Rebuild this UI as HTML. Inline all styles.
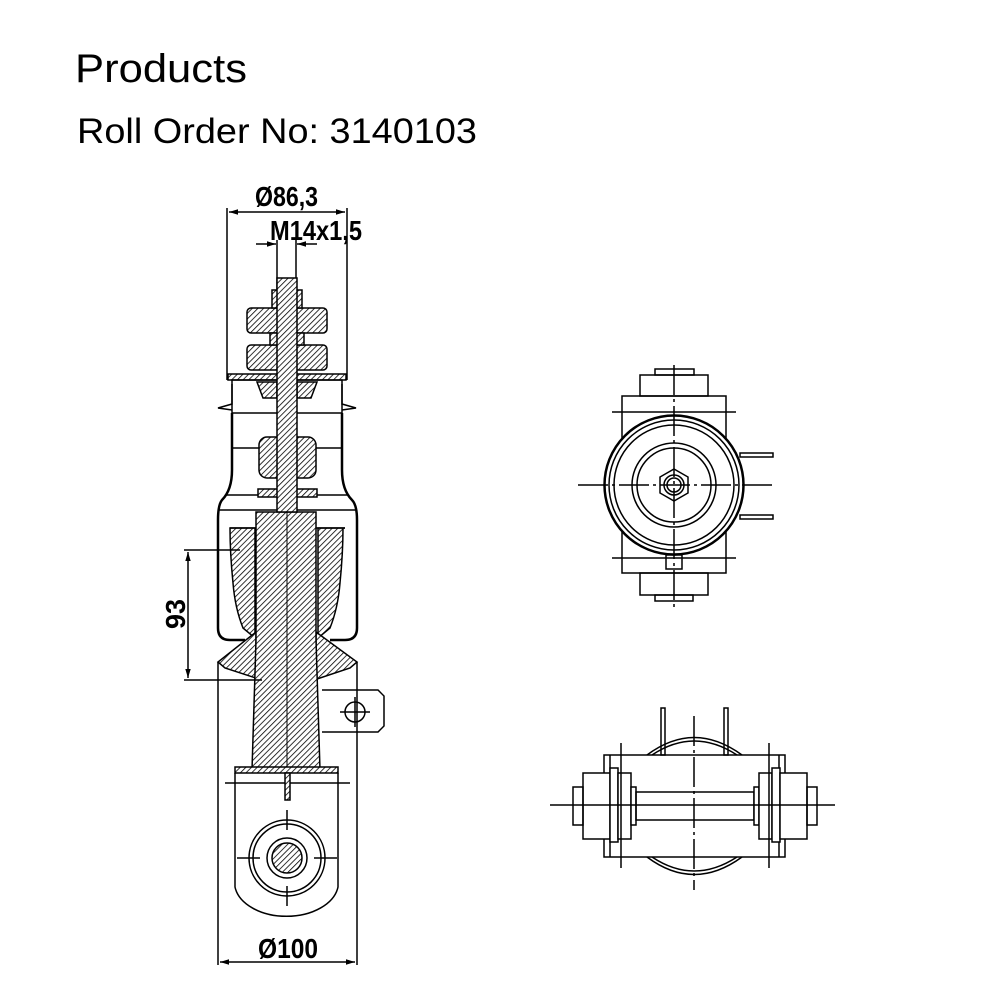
<!DOCTYPE html>
<html><head><meta charset="utf-8"><style>
html,body{margin:0;padding:0;background:#fff;width:1000px;height:1000px;overflow:hidden}
svg{display:block}
</style></head><body>
<svg width="1000" height="1000" viewBox="0 0 1000 1000" xmlns="http://www.w3.org/2000/svg">
<defs>
<pattern id="h" width="4" height="4" patternUnits="userSpaceOnUse" patternTransform="rotate(45)">
<rect width="4" height="4" fill="#fff"/><line x1="0" y1="0" x2="0" y2="4" stroke="#000" stroke-width="1.6"/></pattern>
<marker id="a" viewBox="0 0 10 10" refX="10" refY="5" markerWidth="8" markerHeight="6" orient="auto-start-reverse"><path d="M0,2 L10,5 L0,8 z" fill="#000"/></marker>
</defs>
<text x="75" y="82" font-family="Liberation Sans, sans-serif" font-size="40" textLength="172" lengthAdjust="spacingAndGlyphs">Products</text>
<text x="77" y="143" font-family="Liberation Sans, sans-serif" font-size="35" textLength="400" lengthAdjust="spacingAndGlyphs">Roll Order No: 3140103</text>

<g stroke="#000" stroke-width="1.5" fill="none">
<line x1="227" y1="208" x2="227" y2="380"/><line x1="347" y1="208" x2="347" y2="380"/>
<line x1="229" y1="212" x2="345" y2="212" marker-start="url(#a)" marker-end="url(#a)"/>
<line x1="277" y1="240" x2="277" y2="290"/><line x1="296" y1="240" x2="296" y2="290"/>
<line x1="256" y1="244" x2="276" y2="244" marker-end="url(#a)"/><line x1="317" y1="244" x2="297" y2="244" marker-end="url(#a)"/>

<rect x="247" y="308" width="80" height="25" rx="4" fill="url(#h)"/>
<rect x="247" y="345" width="80" height="25" rx="4" fill="url(#h)"/>
<rect x="270" y="333" width="34" height="12" fill="url(#h)"/>
<rect x="272" y="290" width="30" height="18" fill="url(#h)"/>
<rect x="228" y="374" width="118" height="6" fill="url(#h)"/>
<rect x="232" y="380" width="110" height="33"/>
<path d="M257 382 h20 v16 h-14 z M317 382 h-20 v16 h14 z" fill="url(#h)"/>
<path d="M232 384 v20 l-14 4 l14 2" /><path d="M342 384 v20 l14 4 l-14 2"/>
<path d="M232 413 V470 Q232 490 222 500 Q218 505 218 520 V628 Q218 640 230 640 H245" stroke-width="2.5"/>
<path d="M342 413 V470 Q342 490 352 500 Q357 505 357 520 V628 Q357 640 345 640 H330" stroke-width="2.5"/>
<line x1="232" y1="448" x2="342" y2="448"/><line x1="226" y1="495" x2="348" y2="495"/><line x1="218" y1="510" x2="357" y2="510"/>
<rect x="259" y="437" width="57" height="41" rx="8" fill="url(#h)"/>
<rect x="258" y="489" width="59" height="8" fill="url(#h)"/>
<path d="M230 528 h25 v110 l-12 -10 q-8 -20 -10 -45 q-3 -30 -3 -55z" fill="url(#h)"/>
<path d="M345 528 h-27 v110 l12 -10 q8 -20 10 -45 q3 -30 3 -55z" fill="url(#h)"/>
<line x1="230" y1="528" x2="345" y2="528"/>
<path d="M256 632 L218 662 L225 668 L268 682 L256 682 z" fill="url(#h)"/>
<path d="M316 632 L357 662 L350 668 L308 682 L316 682 z" fill="url(#h)"/>
<path d="M256 512 H316 V640 L320 770 H252 L256 640 z" fill="url(#h)"/>
<rect x="277" y="278" width="20" height="234" fill="url(#h)"/>
<line x1="287" y1="512" x2="287" y2="770" stroke-width="1"/>
<line x1="218" y1="662" x2="218" y2="965"/><line x1="357" y1="662" x2="357" y2="965"/>
<path d="M322 690 H378 L384 696 V726 L378 732 H322"/>
<circle cx="355" cy="712" r="10"/><line x1="340" y1="712" x2="370" y2="712"/><line x1="355" y1="697" x2="355" y2="727"/>
<rect x="235" y="767" width="103" height="6" fill="url(#h)"/>
<path d="M235 773 V887 A52 34 0 0 0 338 887 V773"/>
<line x1="225" y1="783" x2="350" y2="783"/>
<rect x="285" y="773" width="5" height="27" fill="url(#h)"/>
<circle cx="287" cy="858" r="38"/><circle cx="287" cy="858" r="34"/><circle cx="287" cy="858" r="20"/>
<circle cx="287" cy="858" r="15" fill="url(#h)"/>
<line x1="237" y1="858" x2="260" y2="858"/><line x1="314" y1="858" x2="337" y2="858"/>
<line x1="287" y1="810" x2="287" y2="830"/><line x1="287" y1="886" x2="287" y2="906"/>
<line x1="220" y1="962" x2="355" y2="962" marker-start="url(#a)" marker-end="url(#a)"/>
<line x1="184" y1="550" x2="240" y2="550"/><line x1="184" y1="680" x2="262" y2="680"/>
<line x1="188" y1="552" x2="188" y2="678" marker-start="url(#a)" marker-end="url(#a)"/>

<rect x="622" y="396" width="104" height="177"/>
<rect x="640" y="375" width="68" height="21"/><rect x="655" y="369" width="39" height="6"/>
<rect x="640" y="573" width="68" height="22"/><rect x="655" y="595" width="38" height="6"/>
<line x1="612" y1="412" x2="736" y2="412"/><line x1="612" y1="558" x2="736" y2="558"/>
<rect x="740" y="453" width="33" height="4"/><rect x="740" y="515" width="33" height="4"/>
<circle cx="674" cy="485" r="69.5" fill="#fff" stroke-width="2.5"/><circle cx="674" cy="485" r="65"/><circle cx="674" cy="485" r="60"/>
<circle cx="674" cy="485" r="42"/><circle cx="674" cy="485" r="37"/>
<polygon points="674,469 688,477 688,493 674,501 660,493 660,477"/><circle cx="674" cy="485" r="10"/><circle cx="674" cy="485" r="7"/>
<rect x="666" y="555" width="16" height="14"/>
<line x1="578" y1="485" x2="775" y2="485" stroke-dasharray="30 4 3 4"/>
<line x1="674" y1="365" x2="674" y2="610" stroke-dasharray="30 4 3 4"/>

<path d="M647 755 Q694 720 742 755"/><path d="M652 755 Q694 727 737 755"/>
<path d="M647 857 Q694 892 742 857"/><path d="M652 857 Q694 885 737 857"/>
<rect x="604" y="755" width="181" height="102" fill="none"/>
<line x1="610" y1="755" x2="610" y2="857"/><line x1="779" y1="755" x2="779" y2="857"/>
<rect x="583" y="773" width="27" height="66" fill="#fff"/><rect x="610" y="768" width="8" height="74" fill="#fff"/>
<rect x="618" y="773" width="13" height="66" fill="#fff"/><rect x="631" y="787" width="5" height="38" fill="#fff"/>
<rect x="573" y="787" width="10" height="38"/>
<rect x="636" y="792" width="118" height="28"/>
<rect x="754" y="787" width="5" height="38" fill="#fff"/><rect x="759" y="773" width="13" height="66" fill="#fff"/>
<rect x="772" y="768" width="8" height="74" fill="#fff"/><rect x="780" y="773" width="27" height="66" fill="#fff"/>
<rect x="807" y="787" width="10" height="38"/>
<rect x="661" y="708" width="4" height="47"/><rect x="724" y="708" width="4" height="47"/>
<line x1="621" y1="743" x2="621" y2="868"/><line x1="769" y1="743" x2="769" y2="868"/>
<line x1="550" y1="805" x2="835" y2="805"/>
<line x1="694" y1="716" x2="694" y2="890" stroke-dasharray="30 4 3 4"/>
</g>

<g font-family="Liberation Sans, sans-serif" font-weight="bold" font-size="28">
<text x="255" y="206" textLength="63" lengthAdjust="spacingAndGlyphs">Ø86,3</text>
<text x="270" y="240" textLength="92" lengthAdjust="spacingAndGlyphs">M14x1,5</text>
<text x="258" y="958" textLength="60" lengthAdjust="spacingAndGlyphs">Ø100</text>
<text x="0" y="0" transform="translate(185 629) rotate(-90)" textLength="30" lengthAdjust="spacingAndGlyphs">93</text>
</g>
</svg>
</body></html>
